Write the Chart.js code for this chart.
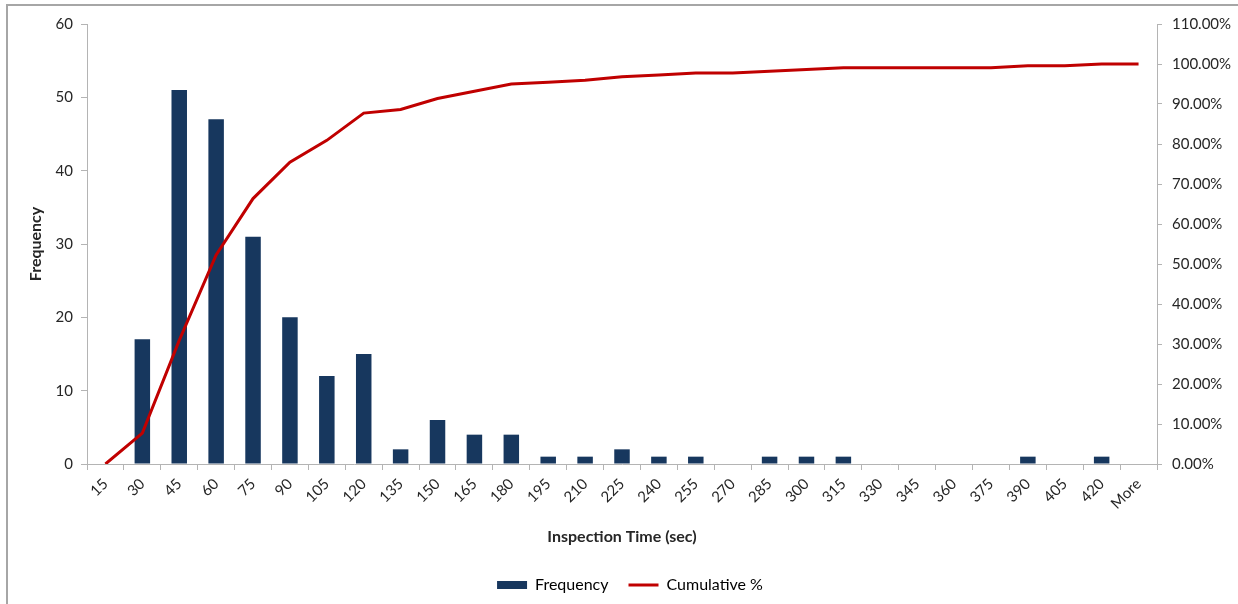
<!DOCTYPE html>
<html>
<head>
<meta charset="utf-8">
<script src="https://cdn.jsdelivr.net/npm/chart.js@4.4.1/dist/chart.umd.min.js"></script>
<style>
  html, body { margin: 0; padding: 0; background: #ffffff; }
  #wrap { position: relative; width: 1238px; height: 604px; overflow: hidden; }
  #frame { position: absolute; left: 6px; top: 4px; width: 1300px; height: 700px;
           border-left: 2px solid #a6a6a6; border-top: 2px solid #a6a6a6; box-sizing: border-box; }
  canvas { position: absolute; left: 0; top: 0; }
</style>
</head>
<body>
<div id="wrap">
  <div id="frame"></div>
  <canvas id="chart" width="1238" height="604"></canvas>
</div>
<script>
// Bin upper limits (seconds) for the inspection-time histogram
const bins = ['15','30','45','60','75','90','105','120','135','150','165','180','195','210',
              '225','240','255','270','285','300','315','330','345','360','375','390','405','420','More'];

// Count of inspections in each bin
const frequency = [0, 17, 51, 47, 31, 20, 12, 15, 2, 6, 4, 4, 1, 1,
                   2, 1, 1, 0, 1, 1, 1, 0, 0, 0, 0, 1, 0, 1, 0];

// Running cumulative percentage
const cumulativePct = [0, 7.73, 30.91, 52.27, 66.36, 75.45, 80.91, 87.73, 88.64, 91.36, 93.18, 95.00, 95.45, 95.91,
                       96.82, 97.27, 97.73, 97.73, 98.18, 98.64, 99.09, 99.09, 99.09, 99.09, 99.09, 99.55, 99.55, 100, 100];

const NAVY = '#17375E';
const RED = '#C00000';
const AXIS = '#b4b4b4';
const TEXT = '#262626';
const FONT = 'Lato, "Open Sans", sans-serif';

Chart.defaults.font.family = FONT;
Chart.defaults.font.size = 14;
Chart.defaults.color = TEXT;

new Chart(document.getElementById('chart'), {
  type: 'bar',
  data: {
    labels: bins,
    datasets: [
      {
        type: 'bar',
        label: 'Frequency',
        data: frequency,
        backgroundColor: NAVY,
        borderWidth: 0,
        barPercentage: 0.42,
        categoryPercentage: 1.0,
        yAxisID: 'y',
        order: 2
      },
      {
        type: 'line',
        label: 'Cumulative %',
        data: cumulativePct,
        borderColor: RED,
        backgroundColor: RED,
        borderWidth: 3,
        pointRadius: 0,
        tension: 0,
        fill: false,
        yAxisID: 'y1',
        order: 1
      }
    ]
  },
  options: {
    responsive: false,
    animation: false,
    devicePixelRatio: 1,
    layout: { padding: { left: 22, right: 0, top: 24, bottom: 1 } },
    plugins: {
      tooltip: { enabled: false },
      legend: {
        position: 'bottom',
        labels: {
          usePointStyle: true,
          pointStyleWidth: 30,
          boxHeight: 8,
          padding: 20,
          color: TEXT,
          font: { size: 16 },
          generateLabels: () => [
            { text: 'Frequency', pointStyle: 'rect', fillStyle: NAVY, strokeStyle: NAVY, lineWidth: 0, datasetIndex: 0 },
            { text: 'Cumulative %', pointStyle: 'line', fillStyle: RED, strokeStyle: RED, lineWidth: 3, datasetIndex: 1 }
          ]
        }
      }
    },
    scales: {
      x: {
        grid: { offset: true, drawOnChartArea: false, drawTicks: true, tickLength: 6, tickColor: AXIS },
        border: { color: AXIS, width: 1 },
        ticks: { autoSkip: false, minRotation: 45, maxRotation: 45, padding: 5, font: { size: 15 }, color: TEXT },
        title: { display: true, text: 'Inspection Time (sec)', font: { size: 16, weight: 'bold' }, color: TEXT,
                 padding: { top: 0, bottom: 11 } },
        afterFit: (s) => { s.height = 93; }
      },
      y: {
        position: 'left',
        min: 0, max: 60,
        ticks: { stepSize: 10, padding: 8, font: { size: 15 }, color: TEXT },
        grid: { drawOnChartArea: false, drawTicks: true, tickLength: 6, tickColor: AXIS },
        border: { color: AXIS, width: 1 },
        title: { display: true, text: 'Frequency', font: { size: 16, weight: 'bold' }, color: TEXT },
        afterFit: (s) => { s.width = 65; }
      },
      y1: {
        position: 'right',
        min: 0, max: 110,
        ticks: { stepSize: 10, padding: 10, font: { size: 15 }, color: TEXT,
                 callback: (v) => Number(v).toFixed(2) + '%' },
        grid: { drawOnChartArea: false, drawTicks: true, tickLength: 5, tickColor: AXIS },
        border: { color: AXIS, width: 1 },
        afterFit: (s) => { s.width = 81; }
      }
    }
  }
});
</script>
</body>
</html>
